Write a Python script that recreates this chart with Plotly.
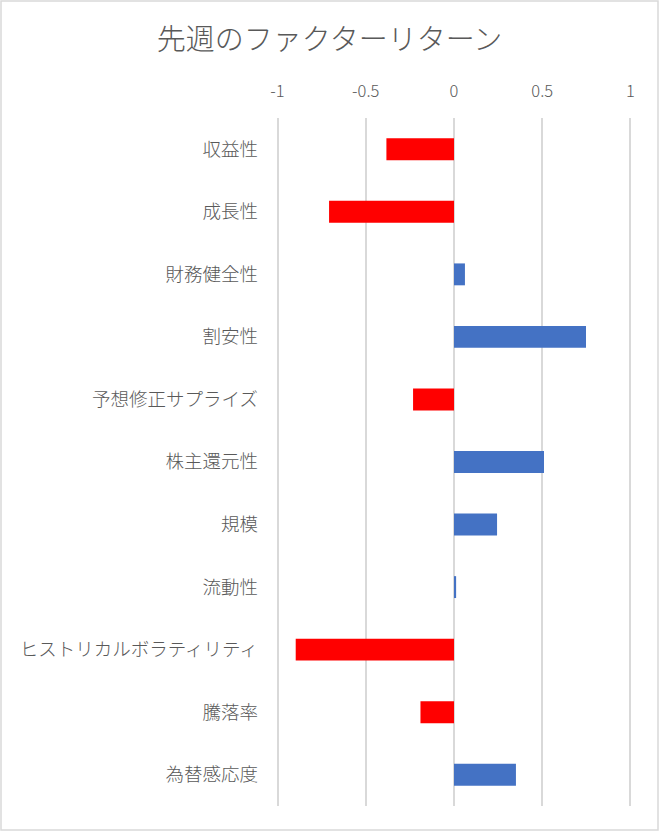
import plotly.graph_objects as go

FACTORS = ['収益性', '成長性', '財務健全性', '割安性', '予想修正サプライズ', '株主還元性',
           '規模', '流動性', 'ヒストリカルボラティリティ', '騰落率', '為替感応度']
RETURNS = [-0.383, -0.708, 0.062, 0.748, -0.232, 0.51, 0.244, 0.012, -0.897, -0.19, 0.351]
TICK_VALS = [-1, -0.5, 0, 0.5, 1]
TICK_TEXT = ['-1', '-0.5', '0', '0.5', '1']

RED = '#FF0000'
BLUE = '#4472C4'
GRID = '#D9D9D9'
TEXT = '#595959'
FONT = 'Noto Sans CJK JP'

colors = [RED if v < 0 else BLUE for v in RETURNS]

fig = go.Figure(go.Bar(
    x=RETURNS, y=FACTORS, orientation='h',
    marker=dict(color=colors, line=dict(width=0)),
    width=0.35,
))

fig.update_layout(
    width=659, height=831,
    paper_bgcolor='white', plot_bgcolor='white',
    margin=dict(l=274, r=25, t=118, b=25),
    title=dict(text='先週のファクターリターン', x=0.5, xanchor='center', y=1 - 40 / 831, yanchor='middle',
               font=dict(family=FONT, size=29, color=TEXT, weight=300)),
    font=dict(family=FONT, color=TEXT),
    showlegend=False,
)

fig.update_xaxes(
    side='top', range=[-1.02, 1.02], tickvals=TICK_VALS, ticktext=TICK_TEXT,
    showgrid=True, gridcolor=GRID, gridwidth=2,
    zeroline=True, zerolinecolor=GRID, zerolinewidth=2,
    showline=False, ticks='', ticklabelstandoff=17,
    tickfont=dict(family=FONT, size=16.5, color=TEXT, weight=300),
)
fig.update_yaxes(
    autorange='reversed', showgrid=False, zeroline=False, showline=False, ticks='',
    ticklabelstandoff=15,
    tickfont=dict(family=FONT, size=18.5, color=TEXT, weight=300),
)

# outer chart border
fig.add_shape(type='rect', xref='paper', yref='paper',
              x0=-273 / 360, x1=1 + 24 / 360, y0=-24 / 688, y1=1 + 117 / 688,
              line=dict(color=GRID, width=1.5), fillcolor='rgba(0,0,0,0)', layer='below')

fig.write_html('out.html', config={'displayModeBar': False},
               post_script='document.body.style.margin = "0";')
